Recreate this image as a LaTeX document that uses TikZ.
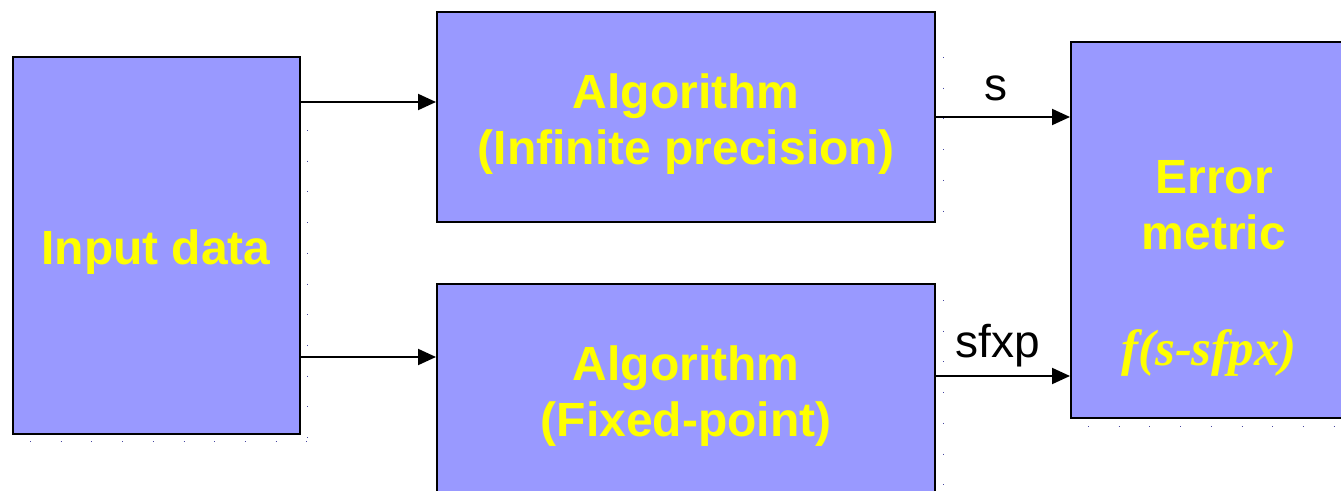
\documentclass[tikz,border=0pt]{standalone}
\usepackage{fontspec}
\setmainfont{Liberation Sans}
\newfontfamily\serifbi{Liberation Serif}
\usetikzlibrary{arrows.meta}
\definecolor{boxfill}{HTML}{9999FF}
\definecolor{txtyellow}{HTML}{FFFF00}
\definecolor{dotcol}{RGB}{70,70,160}
\begin{document}
\begin{tikzpicture}[x=1pt,y=-1pt,
  blk/.style={draw=black,line width=2pt,fill=boxfill,inner sep=0pt},
  blktxt/.style={inner sep=0pt,font=\fontsize{48}{56}\selectfont\bfseries,text=txtyellow,align=center},
  lbl/.style={inner sep=0pt,font=\fontsize{46}{56}\selectfont,anchor=base},
  arr/.style={line width=2pt,-{Triangle[length=18pt,width=16pt]}},
  shdots/.style={dotcol,line width=1pt,dash pattern=on 1pt off 29.7pt}]
\useasboundingbox[fill=white] (0,0) rectangle (1341,490);
% shadow dots
\draw[shdots] (307,130) -- (307,445);
\draw[shdots] (30,441) -- (312,441);
\draw[shdots] (943,57) -- (943,222);
\draw[shdots] (943,300) -- (943,490);
\draw[shdots] (1088,426) -- (1341,426);
% boxes
\node[blk,minimum width=287pt,minimum height=377pt] (input) at (156.5,245.5) {};
\node[blk,minimum width=498pt,minimum height=210pt] (top) at (686,117) {};
\node[blk,minimum width=498pt,minimum height=214pt] (bot) at (686,391) {};
\node[blk,minimum width=282pt,minimum height=376pt] (err) at (1212,230) {};
\node[blktxt] (inputt) at (156,252) {Input data};
\node[blktxt] (topt) at (686,124) {Algorithm\\(Infinite precision)};
\node[blktxt] (bott) at (686,396) {Algorithm\\(Fixed-point)};
\node[blktxt] (errt) at (1214,205) {Error\\metric};
\node[inner sep=0pt,font=\fontsize{51}{56}\selectfont\serifbi\bfseries\itshape,text=txtyellow] (ferr) at (1209,353) {f(s-sfpx)};
% arrows
\coordinate (a1) at (0,102);
\coordinate (a2) at (0,357);
\coordinate (a3) at (0,376);
\draw[arr] (input.east |- a1) -- (top.west |- a1);
\draw[arr] (input.east |- a2) -- (bot.west |- a2);
\draw[arr] (top.east) -- (err.west |- top.east);
\draw[arr] (bot.east |- a3) -- (err.west |- a3);
\node[lbl] (ls) at (996,100) {s};
\node[lbl] (lsf) at (998,357) {sfxp};
\end{tikzpicture}
\end{document}
